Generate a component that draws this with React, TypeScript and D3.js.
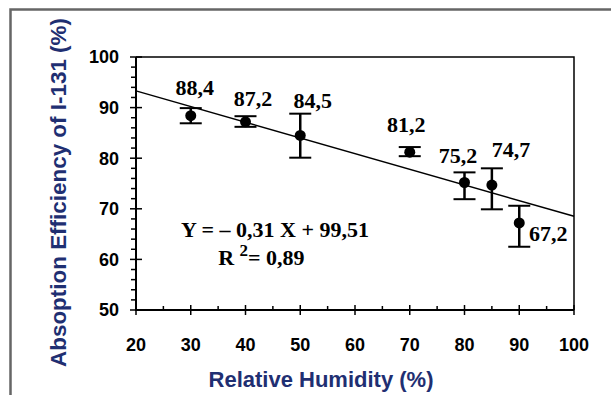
import * as d3 from "d3";

// humidity (%), efficiency (%), error bar ends
const humidity = [30, 40, 50, 70, 80, 85, 90];
const efficiency = [88.4, 87.2, 84.5, 81.2, 75.2, 74.7, 67.2];
const errLow = [86.9, 86.2, 80.1, 80.4, 71.9, 69.9, 62.5];
const errHigh = [89.9, 88.3, 88.8, 82.2, 77.2, 78.0, 70.6];
const valueLabels = ["88,4", "87,2", "84,5", "81,2", "75,2", "74,7", "67,2"];
// label offsets from the point, px
const labelDx = [4, 7.5, 12.5, -3.5, -6.5, 19, 29];
const labelDy = [-20.7, -16, -27, -20, -19.5, -28, 18];

const xTicks = [20, 30, 40, 50, 60, 70, 80, 90, 100];
const yTicks = [50, 60, 70, 80, 90, 100];

const slope = -0.31;
const intercept = 99.51;

const W = 611;
const H = 395;
const blue = "#1f2f72";

export default function App() {
  const x = d3.scaleLinear().domain([20, 100]).range([136, 574]);
  const y = d3.scaleLinear().domain([50, 100]).range([310, 57]);

  const xMinor = d3.range(25, 100, 10);
  const yMinor = d3.range(52, 100, 2).filter((v) => v % 10 !== 0);

  const fit = d3
    .line<number>()
    .x((d) => x(d))
    .y((d) => y(slope * d + intercept));

  const [x0, x1] = x.range();
  const [yb, yt] = y.range();

  return (
    <svg
      width={W}
      height={H}
      style={{ position: "absolute", left: 0, top: 0, background: "#fff" }}
    >
      {/* outer frame */}
      <path d={`M10.5,${H + 5}V9.5H${W + 5}`} fill="none" stroke="#666" strokeWidth={2.5} />

      {/* plot frame */}
      <path d={`M${x0},${yt}H${x1}V${yb}`} fill="none" stroke="#000" strokeWidth={1.5} />
      <path d={`M${x0},${yt}V${yb}H${x1}`} fill="none" stroke="#000" strokeWidth={2} />

      {/* y ticks */}
      {yMinor.map((v) => (
        <line key={"ym" + v} x1={x0 - 5} x2={x0} y1={y(v)} y2={y(v)} stroke="#000" strokeWidth={1.5} />
      ))}
      {yTicks.map((v) => (
        <g key={"y" + v}>
          <line x1={x0 - 6} x2={x0 + 6} y1={y(v)} y2={y(v)} stroke="#000" strokeWidth={1.5} />
          <text
            x={119}
            y={y(v)}
            dy="0.36em"
            textAnchor="end"
            fontFamily="Liberation Sans, Arial, sans-serif"
            fontWeight="bold"
            fontSize={18}
          >
            {v}
          </text>
        </g>
      ))}

      {/* x ticks */}
      {xMinor.map((v) => (
        <line key={"xm" + v} x1={x(v)} x2={x(v)} y1={yb - 4} y2={yb} stroke="#000" strokeWidth={1.5} />
      ))}
      {xTicks.map((v) => (
        <g key={"x" + v}>
          <line x1={x(v)} x2={x(v)} y1={yb - 5} y2={yb + 5} stroke="#000" strokeWidth={1.5} />
          <text
            x={x(v)}
            y={351}
            textAnchor="middle"
            fontFamily="Liberation Sans, Arial, sans-serif"
            fontWeight="bold"
            fontSize={18}
          >
            {v}
          </text>
        </g>
      ))}

      {/* regression line */}
      <path d={fit(x.domain()) ?? ""} fill="none" stroke="#000" strokeWidth={1.5} />

      {/* error bars and points */}
      {humidity.map((h, i) => (
        <g key={"p" + h}>
          <line x1={x(h)} x2={x(h)} y1={y(errLow[i])} y2={y(errHigh[i])} stroke="#000" strokeWidth={2.5} />
          <line x1={x(h) - 11} x2={x(h) + 11} y1={y(errLow[i])} y2={y(errLow[i])} stroke="#000" strokeWidth={2} />
          <line x1={x(h) - 11} x2={x(h) + 11} y1={y(errHigh[i])} y2={y(errHigh[i])} stroke="#000" strokeWidth={2} />
          <circle cx={x(h)} cy={y(efficiency[i])} r={5.5} fill="#000" />
          <text
            x={x(h) + labelDx[i]}
            y={y(efficiency[i]) + labelDy[i]}
            textAnchor="middle"
            fontFamily="Liberation Serif, Times New Roman, serif"
            fontWeight="bold"
            fontSize={22}
          >
            {valueLabels[i]}
          </text>
        </g>
      ))}

      {/* equation */}
      <g fontFamily="Liberation Serif, Times New Roman, serif" fontWeight="bold" fontSize={22}>
        <text x={x(28.2)} y={y(64.4)}>
          Y = – 0,31 X + 99,51
        </text>
        <text x={x(35)} y={y(58.9)}>
          R <tspan dy={-9} fontSize={17}>2</tspan>
          <tspan dy={9}>= 0,89</tspan>
        </text>
      </g>

      {/* axis titles */}
      <text
        x={(209 + 433) / 2}
        y={387}
        textAnchor="middle"
        fontFamily="Liberation Sans, Arial, sans-serif"
        fontWeight="bold"
        fontSize={22}
        fill={blue}
      >
        Relative Humidity (%)
      </text>
      <text
        transform={`translate(66,${(18 + 367) / 2}) rotate(-90)`}
        textAnchor="middle"
        fontFamily="Liberation Sans, Arial, sans-serif"
        fontWeight="bold"
        fontSize={22}
        textLength={349}
        lengthAdjust="spacingAndGlyphs"
        fill={blue}
      >
        Absoption Efficiency of I-131 (%)
      </text>
    </svg>
  );
}
